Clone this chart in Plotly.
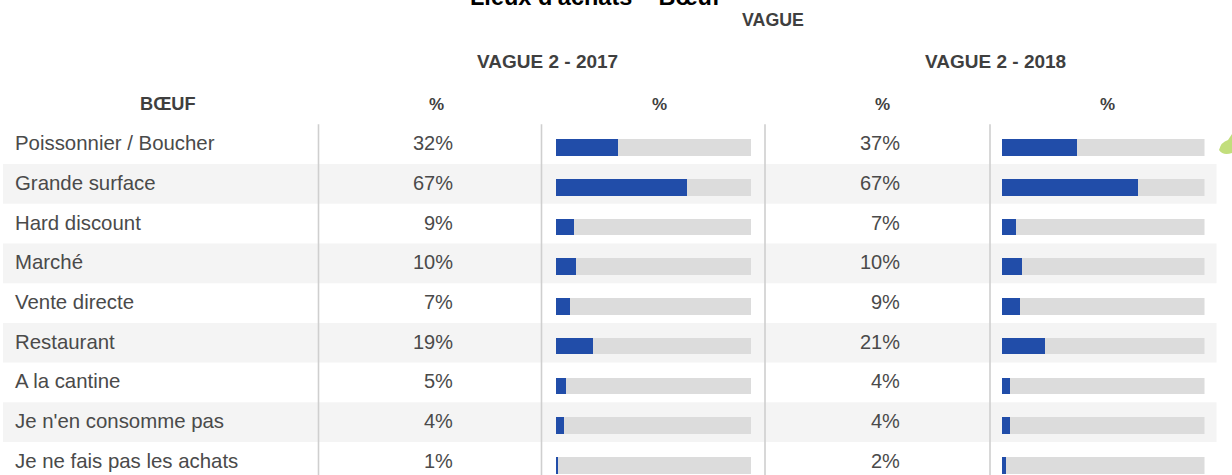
import plotly.graph_objects as go

W, H = 1232, 475

categories = ["Poissonnier / Boucher", "Grande surface", "Hard discount", "Marché", "Vente directe",
              "Restaurant", "A la cantine", "Je n'en consomme pas", "Je ne fais pas les achats"]
values_2017 = [32, 67, 9, 10, 7, 19, 5, 4, 1]
values_2018 = [37, 67, 7, 10, 9, 21, 4, 4, 2]
full_scale = [100] * len(categories)

title_text = "Lieux d'achats – Bœuf"
top_header = "VAGUE"
wave_headers = ["VAGUE 2 - 2017", "VAGUE 2 - 2018"]
row_header = "BŒUF"
pct_header = "%"

BLUE, GREY, STRIPE, RULE = "#214DA9", "#DCDCDC", "#F4F4F4", "#CFCFCF"
TXT, HEAD = "#4A4A4A", "#3F3F3F"
BODY_FONT = "Liberation Sans"


def px(x):
    return x / W


def py(y):
    return 1 - y / H


TOP = 124.3
STEP = 39.72
rows_visible = (H - TOP) / STEP
y_range = [rows_visible - 0.5, -0.5]
bar_shift = 3.7 / STEP
bar_range = [y_range[0] - bar_shift, y_range[1] - bar_shift]

fig = go.Figure()
for axis_x, axis_y, vals in (("x", "y", values_2017), ("x2", "y", values_2018)):
    fig.add_trace(go.Bar(y=categories, x=full_scale, orientation="h", marker=dict(color=GREY, line_width=0),
                         width=0.415, xaxis=axis_x, yaxis=axis_y, hoverinfo="skip", showlegend=False))
    fig.add_trace(go.Bar(y=categories, x=vals, orientation="h", marker=dict(color=BLUE, line_width=0),
                         width=0.415, xaxis=axis_x, yaxis=axis_y, showlegend=False))

shapes = []
for i in range(1, len(categories), 2):
    shapes.append(dict(type="rect", xref="paper", yref="paper", x0=px(3), x1=px(1216.5),
                       y0=py(TOP + i * STEP), y1=max(0, py(TOP + (i + 1) * STEP)),
                       fillcolor=STRIPE, line_width=0, layer="below"))
for x in (318.5, 541.5, 765, 990):
    shapes.append(dict(type="line", xref="paper", yref="paper", x0=px(x), x1=px(x), y0=py(TOP), y1=0,
                       line=dict(color=RULE, width=1.6), layer="above"))
# small green decoration clipped at the right edge
shapes.append(dict(type="path", xref="paper", yref="paper", fillcolor="#C2DE7C", line_width=0,
                   path=f"M {px(1219)} {py(150)} Q {px(1221)} {py(142)} {px(1228)} {py(140)} "
                        f"L {px(1232)} {py(134)} L {px(1232)} {py(153)} Q {px(1223)} {py(156)} {px(1219)} {py(150)} Z"))

ann = []


def label(text, x, y, size, color=TXT, bold=False, anchor="center"):
    ann.append(dict(text=f"<b>{text}</b>" if bold else text, x=px(x), y=py(y), xref="paper", yref="paper",
                    xanchor=anchor, yanchor="middle", showarrow=False, align=anchor, borderpad=0, borderwidth=0,
                    font=dict(family=BODY_FONT, size=size, color=color)))


label(title_text, 595, -3, 23.5, "#000000", True)
label(top_header, 772.5, 20, 17.8, HEAD, True)
label(wave_headers[0], 547.5, 61, 19, HEAD, True)
label(wave_headers[1], 995.5, 61, 19, HEAD, True)
label(row_header, 168, 104, 18.2, HEAD, True)
for x in (436, 659, 882, 1107):
    label(pct_header, x, 104, 17, HEAD, True)
for i, name in enumerate(categories):
    yc = TOP + STEP * (i + 0.5) - 1
    label(name, 15, yc, 20.4, anchor="left")
    label(f"{values_2017[i]}%", 452.5, yc, 20, anchor="right")
    label(f"{values_2018[i]}%", 899.5, yc, 20, anchor="right")

fig.update_layout(
    width=W, height=H, margin=dict(l=0, r=0, t=0, b=0), paper_bgcolor="white", plot_bgcolor="rgba(0,0,0,0)",
    barmode="overlay", bargap=0, shapes=shapes, annotations=ann,
    xaxis=dict(domain=[px(556), px(751)], range=[0, 100], visible=False, fixedrange=True),
    xaxis2=dict(domain=[px(1002), px(1204.5)], range=[0, 100], visible=False, fixedrange=True),
    yaxis=dict(domain=[0, py(TOP)], range=bar_range, visible=False, categoryorder="array",
               categoryarray=categories, fixedrange=True),
)
fig.write_html("out.html", config=dict(displayModeBar=False),
               post_script="document.body.style.margin='0';document.body.style.overflow='hidden';")
